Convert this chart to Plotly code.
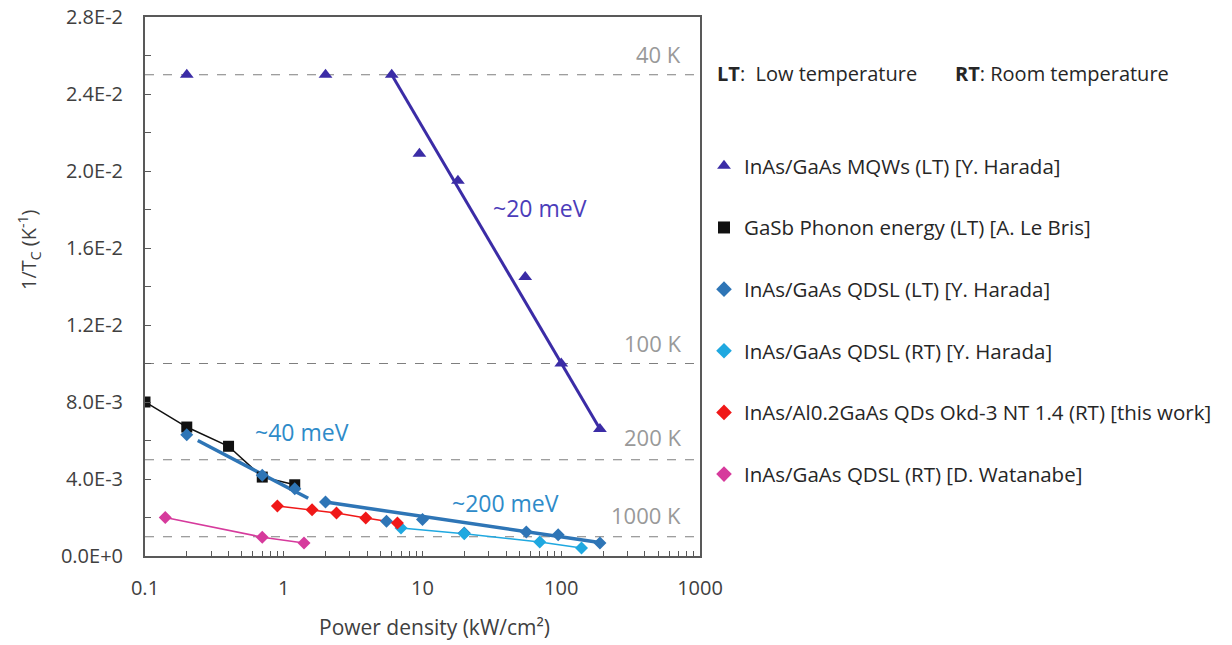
import plotly.graph_objects as go

# ---------------- data ----------------
mqw_x = [0.2, 2, 6, 9.5, 18, 55, 100, 190]
mqw_y = [0.0250, 0.0250, 0.0250, 0.0209, 0.0195, 0.0145, 0.0100, 0.0066]
mqw_fit_x = [6, 190]
mqw_fit_y = [0.0250, 0.0066]

gasb_x = [0.1, 0.2, 0.4, 0.7, 1.2]
gasb_y = [0.0080, 0.0067, 0.0057, 0.0041, 0.0037]

qdsl_lt_x = [0.2, 0.7, 1.2, 2, 5.5, 10, 20, 56, 95, 190]
qdsl_lt_y = [0.0063, 0.0042, 0.0035, 0.0028, 0.0018, 0.0019, 0.0012, 0.00125, 0.0011, 0.00068]
fit40_x = [0.24, 1.5]
fit40_y = [0.0060, 0.0030]
fit200_x = [2, 200]
fit200_y = [0.0028, 0.00068]

qdsl_rt_x = [7, 20, 70, 140]
qdsl_rt_y = [0.00145, 0.00115, 0.00073, 0.00042]

red_x = [0.9, 1.6, 2.4, 3.9, 6.6]
red_y = [0.0026, 0.0024, 0.00223, 0.00197, 0.00171]

pink_x = [0.14, 0.7, 1.4]
pink_y = [0.0020, 0.00098, 0.00068]

temp_lines = [0.025, 0.010, 0.005, 0.001]
temp_labels = ["40 K", "100 K", "200 K", "1000 K"]
temp_label_y = [0.0261, 0.01106, 0.0062, 0.00213]

y_tickvals = [0, 0.004, 0.008, 0.012, 0.016, 0.020, 0.024, 0.028]
y_ticktext = ["0.0E+0", "4.0E-3", "8.0E-3", "1.2E-2", "1.6E-2", "2.0E-2", "2.4E-2", "2.8E-2"]
x_decades = [0.1, 1, 10, 100, 1000]
x_decade_labels = ["0.1", "1", "10", "100", "1000"]

# x ticks: labelled decades plus unlabelled 2..9 sub-ticks
x_tickvals, x_ticktext = [], []
for d, lab in zip(x_decades, x_decade_labels):
    x_tickvals.append(d)
    x_ticktext.append(lab)
    if d < 1000:
        for m in range(2, 10):
            x_tickvals.append(m * d)
            x_ticktext.append("")

# ---------------- styles ----------------
C_IND = "#3B2CA6"
C_BLK = "#111111"
C_DB = "#2E75B6"
C_CY = "#1FA8E0"
C_RED = "#F01818"
C_PINK = "#D63A9C"
FONT = "Open Sans"
TXT = "#404040"

# plot-area pixel geometry (reference): x 145..700, y 17..556
PX_L, PX_R, PX_T, PX_B = 145, 700, 17, 556
W_PLOT, H_PLOT = PX_R - PX_L, PX_B - PX_T


def px_x(p):
    return (p - PX_L) / W_PLOT


def px_y(p):
    return (PX_B - p) / H_PLOT


fig = go.Figure()


def line(x, y, color, width):
    fig.add_trace(go.Scatter(x=x, y=y, mode="lines", line=dict(color=color, width=width),
                             showlegend=False, hoverinfo="skip"))


line(mqw_fit_x, mqw_fit_y, C_IND, 3)
line(gasb_x, gasb_y, C_BLK, 1.5)
line(fit40_x, fit40_y, C_DB, 3.5)
line(fit200_x, fit200_y, C_DB, 3.5)
line(qdsl_rt_x, qdsl_rt_y, C_CY, 1.5)
line(red_x, red_y, C_RED, 1.5)
line(pink_x, pink_y, C_PINK, 1.5)


def pts(x, y, name, grp, symbol, size, color):
    fig.add_trace(go.Scatter(x=x, y=y, mode="markers", name=name, legendgroup=grp,
                             marker=dict(symbol=symbol, size=size, color=color)))


pts(mqw_x, mqw_y, "InAs/GaAs MQWs (LT) [Y. Harada]", "a", "triangle-up", 12, C_IND)
pts(gasb_x, gasb_y, "GaSb Phonon energy (LT) [A. Le Bris]", "b", "square", 11, C_BLK)
pts(qdsl_lt_x, qdsl_lt_y, "InAs/GaAs QDSL (LT) [Y. Harada]", "c", "diamond", 10, C_DB)
pts(qdsl_rt_x, qdsl_rt_y, "InAs/GaAs QDSL (RT) [Y. Harada]", "d", "diamond", 10, C_CY)
pts(red_x, red_y, "InAs/Al0.2GaAs QDs Okd-3 NT 1.4 (RT) [this work]", "e", "diamond", 10, C_RED)
pts(pink_x, pink_y, "InAs/GaAs QDSL (RT) [D. Watanabe]", "f", "diamond", 10, C_PINK)

shapes = []
for v in temp_lines:
    shapes.append(dict(type="line", xref="paper", x0=0, x1=1, yref="y", y0=v, y1=v,
                       line=dict(color="#7f7f7f", width=1.2, dash="dash"), layer="below"))

annotations = []
for lab, yv in zip(temp_labels, temp_label_y):
    annotations.append(dict(text=lab, xref="paper", x=px_x(683), xanchor="right", yref="y", y=yv,
                            yanchor="middle", showarrow=False, font=dict(family=FONT, size=22, color="#999999")))
annotations += [
    dict(text="~20 meV", x=1.846, y=0.0181, xref="x", yref="y", showarrow=False,
         font=dict(family=FONT, size=23, color="#4B3DBA")),
    dict(text="~40 meV", x=0.133, y=0.00645, xref="x", yref="y", showarrow=False,
         font=dict(family=FONT, size=23, color="#2E8BC9")),
    dict(text="~200 meV", x=1.595, y=0.00275, xref="x", yref="y", showarrow=False,
         font=dict(family=FONT, size=23, color="#2E8BC9")),
    dict(text="<b>LT</b>:  Low temperature", xref="paper", yref="paper", x=px_x(715), y=px_y(74),
         xanchor="left", yanchor="middle", showarrow=False, font=dict(family=FONT, size=20, color="#262626")),
    dict(text="<b>RT</b>: Room temperature", xref="paper", yref="paper", x=px_x(953), y=px_y(74),
         xanchor="left", yanchor="middle", showarrow=False, font=dict(family=FONT, size=20, color="#262626")),
    dict(text="1/T<sub>C</sub> (K<sup>-1</sup>)", xref="paper", yref="paper", x=px_x(29), y=px_y(250),
         textangle=-90, xanchor="center", yanchor="middle", showarrow=False,
         font=dict(family=FONT, size=20, color=TXT)),
    dict(text="Power density (kW/cm²)", xref="paper", yref="paper", x=px_x(434), y=px_y(627),
         xanchor="center", yanchor="middle", showarrow=False,
         font=dict(family=FONT, size=21, color=TXT)),
]

fig.update_layout(
    width=1232, height=645,
    margin=dict(l=PX_L, r=1232 - PX_R, t=PX_T, b=645 - PX_B),
    paper_bgcolor="white", plot_bgcolor="white",
    font=dict(family=FONT, size=16, color=TXT),
    shapes=shapes, annotations=annotations,
    legend=dict(x=px_x(704), xanchor="left", y=px_y(146), yanchor="top", tracegroupgap=32,
                font=dict(family=FONT, size=20.5, color="#262626"), itemsizing="constant",
                bgcolor="rgba(0,0,0,0)"),
    showlegend=True,
)
fig.update_xaxes(type="log", range=[-1, 3], tickmode="array", tickvals=x_tickvals, ticktext=x_ticktext,
                 ticks="inside", ticklen=5, tickcolor="#595959", ticklabelstandoff=13,
                 ticklabeloverflow="allow",
                 showgrid=False, zeroline=False, showline=True, linecolor="#595959", linewidth=2, mirror=True,
                 automargin=False,
                 tickfont=dict(family=FONT, size=20, color=TXT))
fig.update_yaxes(range=[0, 0.028], tickvals=y_tickvals, ticktext=y_ticktext,
                 ticks="inside", ticklen=6, tickcolor="#595959", ticklabelstandoff=16,
                 ticklabeloverflow="allow",
                 minor=dict(dtick=0.002, ticks="inside", ticklen=6, tickcolor="#595959", showgrid=False),
                 showgrid=False, zeroline=False, showline=True, linecolor="#595959", linewidth=2, mirror=True,
                 automargin=False,
                 tickfont=dict(family=FONT, size=20, color=TXT))

fig.write_html("out.html", config={"displayModeBar": False},
               post_script="document.body.style.margin='0';")
